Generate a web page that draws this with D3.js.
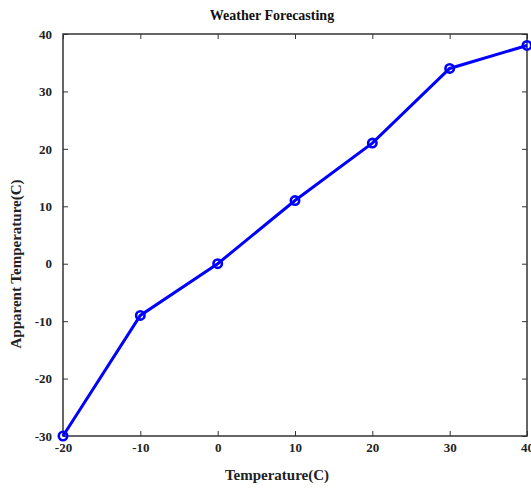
<!DOCTYPE html>
<html><head><meta charset="utf-8">
<script src="https://cdn.jsdelivr.net/npm/d3@7"></script>
<style>body{margin:0;background:#fff}svg{display:block}</style>
</head><body>
<script>
const temperature = [-20, -10, 0, 10, 20, 30, 40];
const apparent = [-30, -9, 0, 11, 21, 34, 38];
const xTicks = [-20, -10, 0, 10, 20, 30, 40];
const yTicks = [-30, -20, -10, 0, 10, 20, 30, 40];
const title = "Weather Forecasting";
const xLabel = "Temperature(C)";
const yLabel = "Apparent Temperature(C)";

const W = 531, H = 488;
const m = {left: 63, right: 4, top: 34, bottom: 52};
const svg = d3.select("body").append("svg").attr("width", W).attr("height", H);
const font = "'Liberation Serif','Times New Roman',serif";
const x = d3.scaleLinear().domain([-20, 40]).range([m.left, W - m.right]);
const y = d3.scaleLinear().domain([-30, 40]).range([H - m.bottom, m.top]);
const axisColor = "#333";
const fmt = d => String(d);

function styleAxis(g, noText) {
  g.select(".domain").remove();
  g.selectAll(".tick line").attr("stroke", axisColor).attr("stroke-width", 1);
  g.selectAll(".tick text").attr("fill", "#222").attr("font-family", font)
    .attr("font-weight", "bold").attr("font-size", 13);
  if (noText) g.selectAll(".tick text").remove();
}
// bottom
svg.append("g").attr("transform", `translate(0,${y(-30)})`)
  .call(d3.axisBottom(x).tickValues(xTicks).tickSizeInner(-5).tickSizeOuter(0).tickPadding(7).tickFormat(fmt))
  .call(g => styleAxis(g));
// top
svg.append("g").attr("transform", `translate(0,${y(40)})`)
  .call(d3.axisTop(x).tickValues(xTicks).tickSizeInner(-5).tickSizeOuter(0))
  .call(g => styleAxis(g, true));
// left
svg.append("g").attr("transform", `translate(${x(-20)},0)`)
  .call(d3.axisLeft(y).tickValues(yTicks).tickSizeInner(-5).tickSizeOuter(0).tickPadding(11).tickFormat(fmt))
  .call(g => styleAxis(g));
// right
svg.append("g").attr("transform", `translate(${x(40)},0)`)
  .call(d3.axisRight(y).tickValues(yTicks).tickSizeInner(-5).tickSizeOuter(0))
  .call(g => styleAxis(g, true));

// box
svg.append("rect").attr("x", x(-20)).attr("y", y(40))
  .attr("width", x(40) - x(-20)).attr("height", y(-30) - y(40))
  .attr("fill", "none").attr("stroke", axisColor).attr("stroke-width", 1.5);

const pts = temperature.map((t, i) => [t, apparent[i]]);
svg.append("path").datum(pts)
  .attr("d", d3.line().x(d => x(d[0])).y(d => y(d[1])))
  .attr("fill", "none").attr("stroke", "#0000ff").attr("stroke-width", 3);
svg.selectAll("circle.pt").data(pts).enter().append("circle")
  .attr("cx", d => x(d[0])).attr("cy", d => y(d[1])).attr("r", 4.2)
  .attr("fill", "none").attr("stroke", "#0000ff").attr("stroke-width", 2.6);

svg.append("text").attr("x", 272).attr("y", 20).attr("text-anchor", "middle")
  .attr("font-family", font).attr("font-weight", "bold").attr("font-size", 14).attr("fill", "#111").text(title);
svg.append("text").attr("x", 277).attr("y", 480).attr("text-anchor", "middle")
  .attr("font-family", font).attr("font-weight", "bold").attr("font-size", 15).attr("fill", "#222").text(xLabel);
svg.append("text").attr("transform", `translate(21,264) rotate(-90)`).attr("text-anchor", "middle")
  .attr("font-family", font).attr("font-weight", "bold").attr("font-size", 15).attr("fill", "#222").text(yLabel);
</script>
</body></html>
